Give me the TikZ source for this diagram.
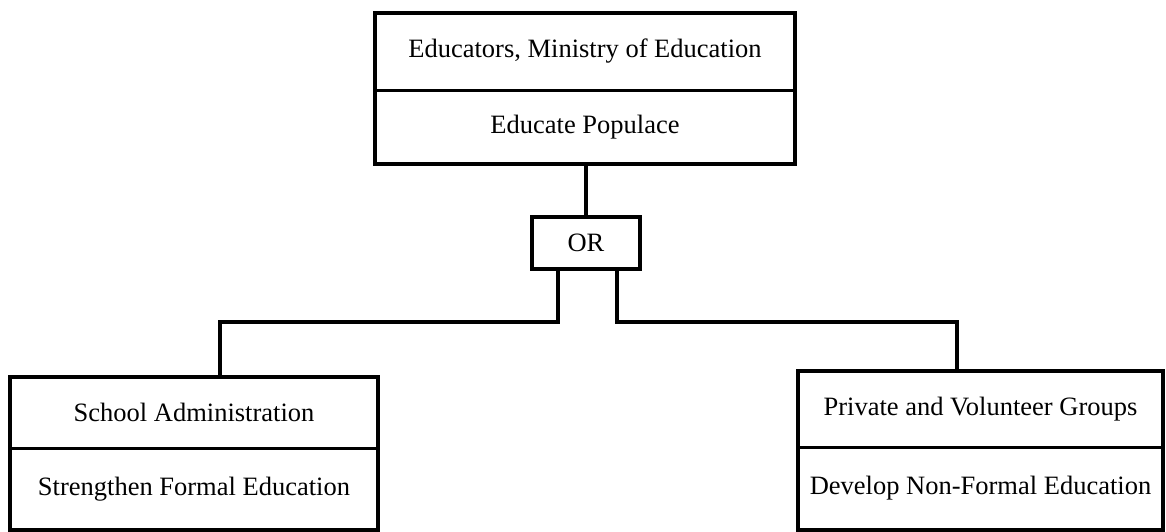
\documentclass[tikz,border=0pt]{standalone}
\usepackage{fontspec}
\setmainfont{Liberation Serif}
\usetikzlibrary{fit,calc}
\begin{document}
\begin{tikzpicture}[x=1pt,y=-1pt,
  cell/.style={rectangle,inner sep=0pt,align=center,font=\fontsize{26.5}{31}\selectfont},
  frame/.style={draw,line width=4.5pt,inner sep=0pt,fit=#1},
  divider/.style={line width=3pt},
  conn/.style={line width=4pt}]
\useasboundingbox (0,0) rectangle (1166,531);

% top goal: actor and objective
\node[cell,minimum width=420pt,minimum height=77pt] (topA) at (585,51.5) {Educators, Ministry of Education};
\node[cell,minimum width=420pt,minimum height=74pt] (topG) at (585,127) {Educate Populace};
\node[frame={(topA)(topG)}] (top) {};
\draw[divider] (topA.south west) -- (topA.south east);

% decomposition gate
\node[draw,line width=4.5pt,inner sep=0pt,minimum width=108pt,minimum height=52pt,
      font=\fontsize{26.5}{31}\selectfont] (or) at (586,243) {OR};

% left sub-goal
\node[cell,minimum width=368pt,minimum height=71pt] (leftA) at (194,412.5) {School Administration};
\node[cell,minimum width=368pt,minimum height=82pt] (leftG) at (194,489) {Strengthen Formal Education};
\node[frame={(leftA)(leftG)}] (left) {};
\draw[divider] (leftA.south west) -- (leftA.south east);

% right sub-goal
\node[cell,minimum width=365pt,minimum height=76pt] (rightA) at (980.5,409) {Private and Volunteer Groups};
\node[cell,minimum width=365pt,minimum height=83pt] (rightG) at (980.5,488.5) {Develop Non-Formal Education};
\node[frame={(rightA)(rightG)}] (right) {};
\draw[divider] (rightA.south west) -- (rightA.south east);

% connectors
\draw[conn] (or.north |- top.south) -- (or.north);
\coordinate (oL) at ($(or.south)+(-28,0)$);
\coordinate (oR) at ($(or.south)+(31,0)$);
\coordinate (lcol) at (220,322);
\coordinate (rcol) at (957,322);
\draw[conn] (oL) |- (lcol) -- (lcol |- left.north);
\draw[conn] (oR) |- (rcol) -- (rcol |- right.north);
\end{tikzpicture}
\end{document}
